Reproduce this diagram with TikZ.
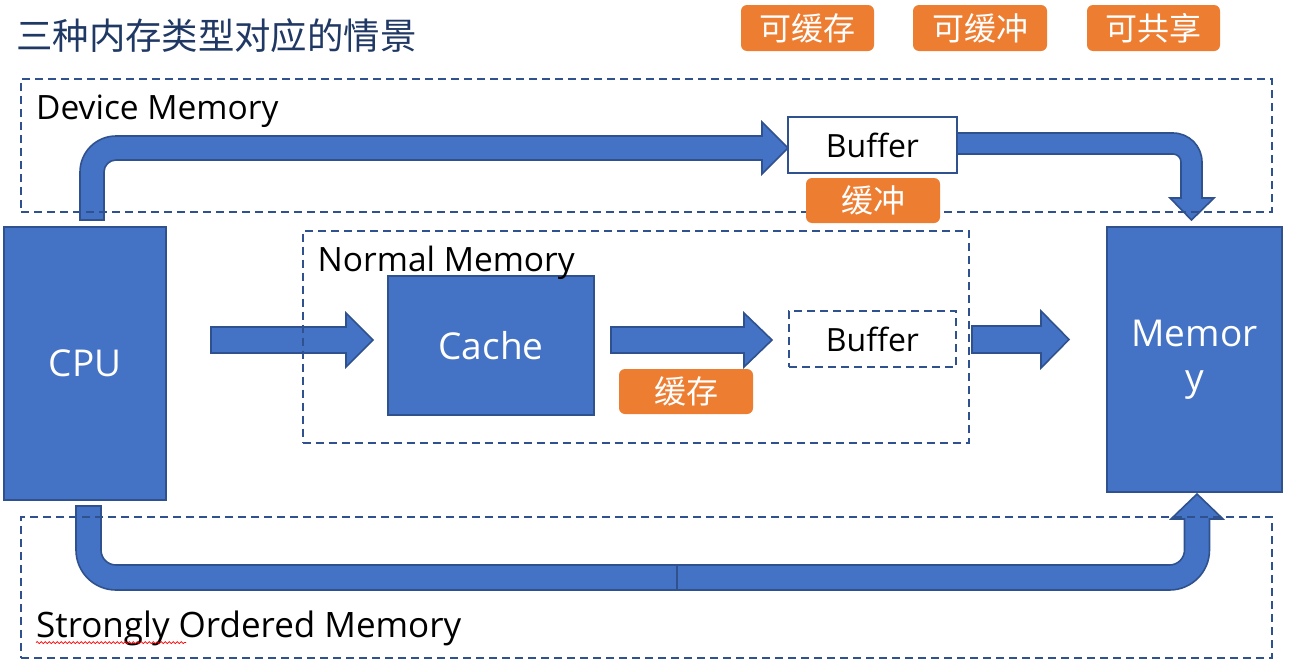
\documentclass[tikz,border=0pt]{standalone}
\usepackage{fontspec}
\setmainfont{Open Sans}
\newfontfamily\cjkf{Noto Sans CJK SC}
\usetikzlibrary{decorations.pathmorphing}
\definecolor{bfill}{HTML}{4472C4}
\definecolor{bline}{HTML}{2F528F}
\definecolor{orng}{HTML}{ED7D31}
\definecolor{navy}{HTML}{203864}
\begin{document}
\begin{tikzpicture}[x=1pt,y=-1pt,
  bluebox/.style={draw=bline, fill=bfill, line width=2pt, inner sep=0pt, outer sep=0pt, text=white, font=\fontsize{37}{44}\selectfont},
  dbox/.style={draw=bline, line width=2pt, dash pattern=on 8pt off 5pt, inner sep=0pt, outer sep=0pt},
  tag/.style={fill=orng, rounded corners=6pt, text=white, inner sep=0pt, outer sep=0pt, font=\cjkf\fontsize{32}{36}\selectfont},
  barrow/.style={draw=bline, fill=bfill, line width=1.6pt, line join=miter},
  rlabel/.style={anchor=base west, inner sep=0pt, font=\fontsize{33.5}{40}\selectfont},
]
\useasboundingbox (0,0) rectangle (1294,672);

% ---------- block arrows ----------
% CPU -> top Buffer
\draw[barrow] (80,220) -- (80,172) .. controls (80,152.1) and (96.1,136) .. (116,136)
  -- (762,136) -- (762,122) -- (788,148) -- (762,174) -- (762,160) -- (116,160)
  .. controls (109.4,160) and (104,165.4) .. (104,172) -- (104,220) -- cycle;
% top Buffer -> Memory
\draw[barrow] (957,133) -- (1173,133) .. controls (1189,133) and (1202,146) .. (1202,162)
  -- (1202,198) -- (1214,198) -- (1191.5,220) -- (1170,198) -- (1181,198) -- (1181,162)
  .. controls (1181,157.6) and (1177.4,154) .. (1173,154) -- (957,154) -- cycle;
% CPU -> Memory (strongly ordered)
\draw[barrow] (76,506) -- (76,550) .. controls (76,572.1) and (93.9,590) .. (116,590)
  -- (1169.5,590) .. controls (1191.6,590) and (1209.5,572.1) .. (1209.5,550)
  -- (1209.5,519) -- (1223,519) -- (1197,494) -- (1171,519) -- (1184.5,519) -- (1184.5,550)
  .. controls (1184.5,558.3) and (1177.8,565) .. (1169.5,565) -- (116,565)
  .. controls (107.7,565) and (101,558.3) .. (101,550) -- (101,506) -- cycle;
\draw[bline, line width=1.6pt] (677,565) -- (677,590);
% straight arrows
\draw[barrow] (211,327) -- (346,327) -- (346,313) -- (373,340) -- (346,367) -- (346,353) -- (211,353) -- cycle;
\draw[barrow] (611,327) -- (744,327) -- (744,313) -- (772,340) -- (744,367) -- (744,353) -- (611,353) -- cycle;
\draw[barrow] (972,326) -- (1041,326) -- (1041,311) -- (1069,339.5) -- (1041,368) -- (1041,353) -- (972,353) -- cycle;

% ---------- solid boxes ----------
\node[bluebox, minimum width=162pt, minimum height=273pt] (cpu) at (85,363.5) {CPU};
\node[bluebox, minimum width=206pt, minimum height=139pt] (cache) at (491,345.5) {Cache};
\node[bluebox, minimum width=175pt, minimum height=265pt, align=center] (mem) at (1194.5,359.5) {Memor\\y};

% ---------- dashed regions ----------
\node[dbox, minimum width=1251pt, minimum height=133pt] (dev) at (646.5,145.5) {};
\node[dbox, minimum width=666.5pt, minimum height=211.5pt] (norm) at (635.75,336.75) {};
\node[dbox, minimum width=1251pt, minimum height=141pt] (so) at (646.5,587.5) {};

% ---------- buffers ----------
\node[draw=bline, fill=white, line width=2pt, inner sep=0pt, minimum width=169pt, minimum height=56pt, font=\fontsize{32}{38}\selectfont] (buf1) at (872.5,145) {Buffer};
\node[draw=bline, fill=white, line width=2pt, dash pattern=on 8pt off 5pt, inner sep=0pt, minimum width=167pt, minimum height=56pt, font=\fontsize{32}{38}\selectfont] (buf2) at (872.5,339) {Buffer};

% ---------- region labels ----------
\node[rlabel] (ldev) at (36,119) {Device Memory};
\node[rlabel] (lnorm) at (317.5,271.5) {Normal Memory};
\node[rlabel, font=\fontsize{35}{40}\selectfont] (lso) at (36,637.5) {Strongly Ordered Memory};
\draw[red, line width=0.7pt, decorate, decoration={snake, amplitude=1pt, segment length=4pt}] (36,642.5) -- (186,642.5);

% ---------- title ----------
\node[anchor=base west, inner sep=0pt, text=navy, font=\cjkf\fontsize{36.4}{40}\selectfont] (title) at (16,49) {三种内存类型对应的情景};

% ---------- orange tags ----------
\node[tag, minimum width=133pt, minimum height=46pt] (t1) at (807.5,28) {可缓存};
\node[tag, minimum width=134pt, minimum height=46pt] (t2) at (980,28) {可缓冲};
\node[tag, minimum width=133pt, minimum height=46pt] (t3) at (1153.5,28) {可共享};
\node[tag, minimum width=134pt, minimum height=45pt] (t4) at (873,200.5) {缓冲};
\node[tag, minimum width=134pt, minimum height=45pt] (t5) at (686,391.5) {缓存};
\end{tikzpicture}
\end{document}
